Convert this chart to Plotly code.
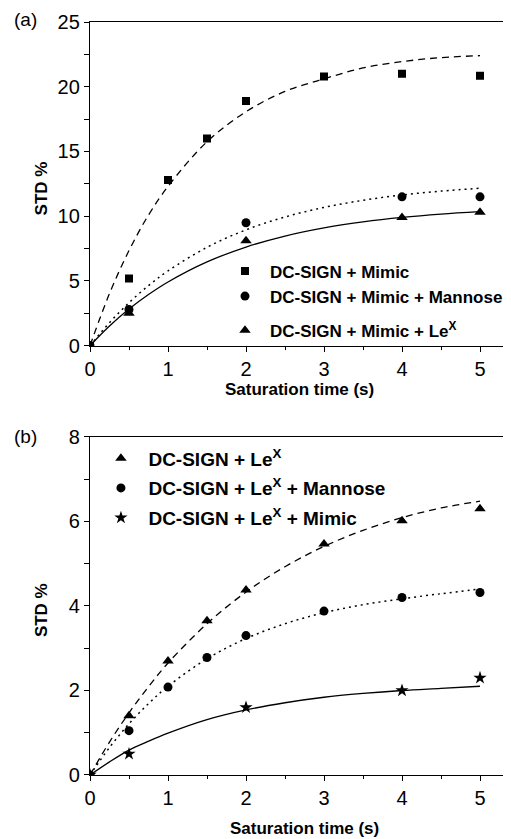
import plotly.graph_objects as go
from plotly.subplots import make_subplots

# ---------------- Panel (a) data ----------------
t_a_mimic = [0, 0.5, 1, 1.5, 2, 3, 4, 5]
std_a_mimic = [0, 5.2, 12.8, 16.0, 18.9, 20.8, 21.0, 20.85]
t_a_mann = [0, 0.5, 2, 4, 5]
std_a_mann = [0, 2.8, 9.5, 11.5, 11.5]
t_a_lex = [0, 0.5, 2, 4, 5]
std_a_lex = [0, 2.5, 8.1, 9.9, 10.3]

# fitted curves
fit_t = [0, 0.25, 0.5, 0.75, 1, 1.5, 2, 2.5, 3, 3.5, 4, 4.5, 5]
fit_a_mimic = [0, 4.03, 7.35, 10.09, 12.30, 15.75, 18.07, 19.64, 20.61, 21.45, 21.94, 22.25, 22.40]
fit_a_mann = [0, 1.78, 3.32, 4.64, 5.78, 7.60, 8.95, 9.94, 10.68, 11.23, 11.64, 11.94, 12.16]
fit_a_lex = [0, 1.52, 2.83, 3.95, 4.92, 6.47, 7.62, 8.47, 9.10, 9.56, 9.91, 10.17, 10.36]

# ---------------- Panel (b) data ----------------
t_b_lex = [0, 0.5, 1, 1.5, 2, 3, 4, 5]
std_b_lex = [0, 1.4, 2.7, 3.65, 4.38, 5.47, 6.02, 6.3]
t_b_mann = [0, 0.5, 1, 1.5, 2, 3, 4, 5]
std_b_mann = [0, 1.05, 2.08, 2.78, 3.3, 3.88, 4.2, 4.32]
t_b_mimic = [0, 0.5, 2, 4, 5]
std_b_mimic = [0, 0.5, 1.6, 2.0, 2.3]

fit_b_lex = [0, 0.78, 1.47, 2.09, 2.65, 3.58, 4.33, 4.93, 5.41, 5.79, 6.09, 6.32, 6.48]
fit_b_mann = [0, 0.65, 1.21, 1.69, 2.10, 2.75, 3.23, 3.58, 3.84, 4.03, 4.17, 4.29, 4.40]
fit_b_mimic = [0, 0.31, 0.59, 0.80, 0.99, 1.31, 1.54, 1.71, 1.84, 1.93, 2.00, 2.05, 2.10]

x_ticks = [0, 1, 2, 3, 4, 5]
ya_ticks = [0, 5, 10, 15, 20, 25]
yb_ticks = [0, 2, 4, 6, 8]

names_a = ["DC-SIGN + Mimic", "DC-SIGN + Mimic + Mannose", "DC-SIGN + Mimic + Le<sup>X</sup>"]
names_b = ["DC-SIGN + Le<sup>X</sup>", "DC-SIGN + Le<sup>X</sup> + Mannose", "DC-SIGN + Le<sup>X</sup> + Mimic"]

FONT = "Arial, Liberation Sans, sans-serif"
BLACK = "#000000"

fig = make_subplots(rows=2, cols=1, vertical_spacing=0.12)

# fit lines (a)
fig.add_trace(go.Scatter(x=fit_t, y=fit_a_mimic, mode="lines", line=dict(color=BLACK, width=1.3, dash="7px,5px"),
                         showlegend=False, hoverinfo="skip", line_shape="spline"), row=1, col=1)
fig.add_trace(go.Scatter(x=fit_t, y=fit_a_mann, mode="lines", line=dict(color=BLACK, width=1.5, dash="2px,4px"),
                         showlegend=False, hoverinfo="skip", line_shape="spline"), row=1, col=1)
fig.add_trace(go.Scatter(x=fit_t, y=fit_a_lex, mode="lines", line=dict(color=BLACK, width=1.3),
                         showlegend=False, hoverinfo="skip", line_shape="spline"), row=1, col=1)
# points (a)
fig.add_trace(go.Scatter(x=t_a_mimic, y=std_a_mimic, mode="markers", name=names_a[0], legendgroup="a1",
                         marker=dict(symbol="square", size=8, color=BLACK), legend="legend"), row=1, col=1)
fig.add_trace(go.Scatter(x=t_a_mann, y=std_a_mann, mode="markers", name=names_a[1], legendgroup="a1",
                         marker=dict(symbol="circle", size=9, color=BLACK), legend="legend"), row=1, col=1)
fig.add_trace(go.Scatter(x=t_a_lex, y=std_a_lex, mode="markers", name=names_a[2], legendgroup="a2",
                         marker=dict(symbol="triangle-up", size=10, color=BLACK), legend="legend"), row=1, col=1)

# fit lines (b)
fig.add_trace(go.Scatter(x=fit_t, y=fit_b_lex, mode="lines", line=dict(color=BLACK, width=1.3, dash="7px,5px"),
                         showlegend=False, hoverinfo="skip", line_shape="spline"), row=2, col=1)
fig.add_trace(go.Scatter(x=fit_t, y=fit_b_mann, mode="lines", line=dict(color=BLACK, width=1.5, dash="2px,4px"),
                         showlegend=False, hoverinfo="skip", line_shape="spline"), row=2, col=1)
fig.add_trace(go.Scatter(x=fit_t, y=fit_b_mimic, mode="lines", line=dict(color=BLACK, width=1.3),
                         showlegend=False, hoverinfo="skip", line_shape="spline"), row=2, col=1)
# points (b)
fig.add_trace(go.Scatter(x=t_b_lex, y=std_b_lex, mode="markers", name=names_b[0], legendgroup="b1",
                         marker=dict(symbol="triangle-up", size=10, color=BLACK), legend="legend2"), row=2, col=1)
fig.add_trace(go.Scatter(x=t_b_mann, y=std_b_mann, mode="markers", name=names_b[1], legendgroup="b2",
                         marker=dict(symbol="circle", size=9, color=BLACK), legend="legend2"), row=2, col=1)
fig.add_trace(go.Scatter(x=t_b_mimic, y=std_b_mimic, mode="markers", name=names_b[2], legendgroup="b3",
                         marker=dict(symbol="star", size=10, color=BLACK), legend="legend2"), row=2, col=1)

axis_common = dict(showline=True, linecolor=BLACK, linewidth=1.4, ticks="outside", ticklen=5, tickwidth=1.3,
                   tickcolor=BLACK, showgrid=False, zeroline=False,
                   tickfont=dict(family=FONT, size=20, color=BLACK))

# page body has an 8px margin: plot area is placed so that it lands at
# x 90..(right edge), y 22..775 inside the 511x839 window
dom_a = [0.5701, 1.0]
dom_b = [0.0, 0.4489]

fig.update_xaxes(**axis_common, range=[0, 5.5], tickvals=x_ticks, mirror=True,
                 minor=dict(dtick=0.5, ticks="outside", ticklen=3, tickwidth=1.2, tickcolor=BLACK, showgrid=False))
fig.update_xaxes(domain=[0, 1])
fig.update_yaxes(**axis_common, mirror=False)
fig.update_yaxes(range=[0, 25], tickvals=ya_ticks, domain=dom_a,
                 minor=dict(dtick=2.5, ticks="outside", ticklen=5, tickwidth=1.2, tickcolor=BLACK, showgrid=False),
                 row=1, col=1)
fig.update_yaxes(range=[0, 8], tickvals=yb_ticks, domain=dom_b,
                 minor=dict(dtick=1, ticks="outside", ticklen=5, tickwidth=1.2, tickcolor=BLACK, showgrid=False),
                 row=2, col=1)

ann_font = dict(family=FONT, size=19, color=BLACK)
title_font = dict(family=FONT, size=17, color=BLACK, weight="bold")
fig.update_layout(
    width=511, height=839,
    margin=dict(l=82, r=0, t=14, b=72),
    plot_bgcolor="white", paper_bgcolor="white",
    font=dict(family=FONT, color=BLACK),
    legend=dict(x=0.303, y=0.6926, xanchor="left", yanchor="top", bgcolor="rgba(0,0,0,0)",
                font=dict(family=FONT, size=17, color=BLACK, weight="bold"), tracegroupgap=9,
                itemwidth=40),
    legend2=dict(x=0.008, y=0.4457, xanchor="left", yanchor="top", bgcolor="rgba(0,0,0,0)",
                 font=dict(family=FONT, size=19, color=BLACK, weight="bold"), tracegroupgap=2,
                 itemwidth=45),
    annotations=[
        dict(text="(a)", x=-0.1515, y=1.003, xref="paper", yref="paper", showarrow=False, font=ann_font,
             xanchor="center", yanchor="middle"),
        dict(text="(b)", x=-0.1515, y=0.450, xref="paper", yref="paper", showarrow=False, font=ann_font,
             xanchor="center", yanchor="middle"),
        dict(text="STD %", x=-0.1142, y=0.779, xref="paper", yref="paper", showarrow=False, font=title_font,
             textangle=-90, xanchor="center", yanchor="middle"),
        dict(text="STD %", x=-0.1142, y=0.219, xref="paper", yref="paper", showarrow=False, font=title_font,
             textangle=-90, xanchor="center", yanchor="middle"),
        dict(text="Saturation time (s)", x=0.4895, y=0.5113, xref="paper", yref="paper", showarrow=False,
             font=title_font, xanchor="center", yanchor="middle"),
        dict(text="Saturation time (s)", x=0.501, y=-0.0704, xref="paper", yref="paper", showarrow=False,
             font=title_font, xanchor="center", yanchor="middle"),
    ],
)

fig.write_html("out.html")
